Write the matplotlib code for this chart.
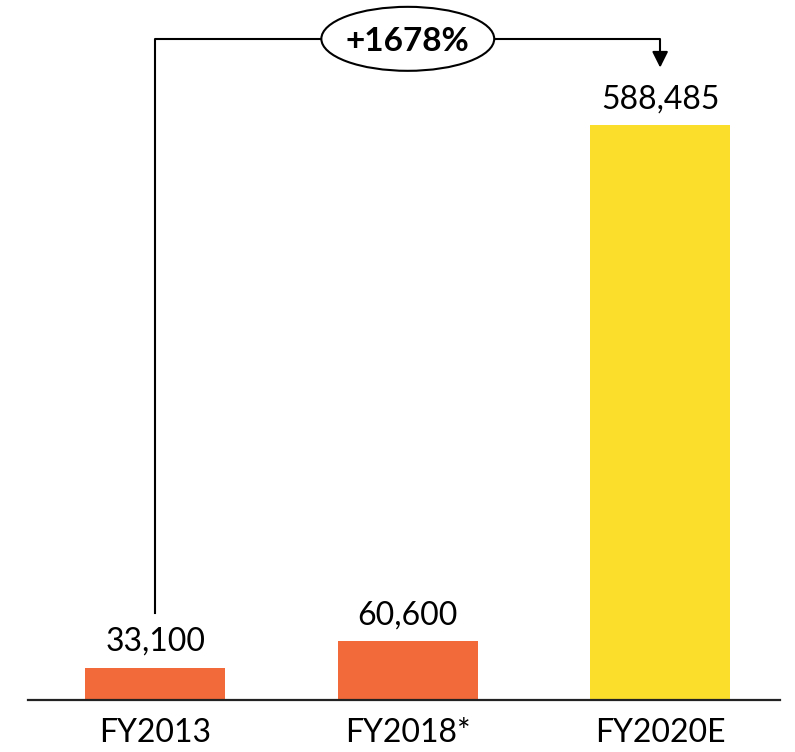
import matplotlib.pyplot as plt
from matplotlib.patches import Ellipse

plt.rcParams['font.family'] = ['Lato', 'DejaVu Sans']

years = ['FY2013', 'FY2018*', 'FY2020E']
values = [33100, 60600, 588485]
colors = ['#F2693A', '#F2693A', '#FBDE2C']
growth_label = '+1678%'

fig = plt.figure(figsize=(7.95, 7.52), dpi=100)
ax = fig.add_axes([28 / 795, 52 / 752, 752 / 795, 700 / 752])

x = range(len(years))
ax.bar(x, values, width=0.555, color=colors, zorder=2)

for xi, v in zip(x, values):
    ax.text(xi, v + 11000, f'{v:,}', ha='center', va='bottom', fontsize=23)

ax.set_xlim(-0.505, 2.475)
ax.set_ylim(0, 716500)
ax.set_xticks(list(x))
ax.set_xticklabels(years, fontsize=23)
ax.tick_params(axis='x', length=0, pad=13)
ax.set_yticks([])
for s in ['top', 'left', 'right']:
    ax.spines[s].set_visible(False)
ax.spines['bottom'].set_linewidth(1.6)
ax.spines['bottom'].set_color('#222222')

# connector from first bar to last bar
top = max(values) * 1.15
start = values[0] + 56000
end = max(values) + 56000
ax.plot([0, 0, 2, 2], [start, top, top, end + 14000], color='black', lw=1.5, zorder=3)
ax.annotate('', xy=(2, end), xytext=(2, end + 16000),
            arrowprops=dict(arrowstyle='-|>', color='black', lw=1.5,
                            mutation_scale=24), zorder=3)

# oval with growth label
mid = (0 + 2) / 2
ell = Ellipse((mid, top), width=0.685, height=65500, facecolor='white',
              edgecolor='black', lw=1.5, zorder=4)
ax.add_patch(ell)
ax.text(mid, top - 2500, growth_label, ha='center', va='center',
        fontsize=24, fontweight='bold', zorder=5)

fig.savefig('out.png', dpi=100)
